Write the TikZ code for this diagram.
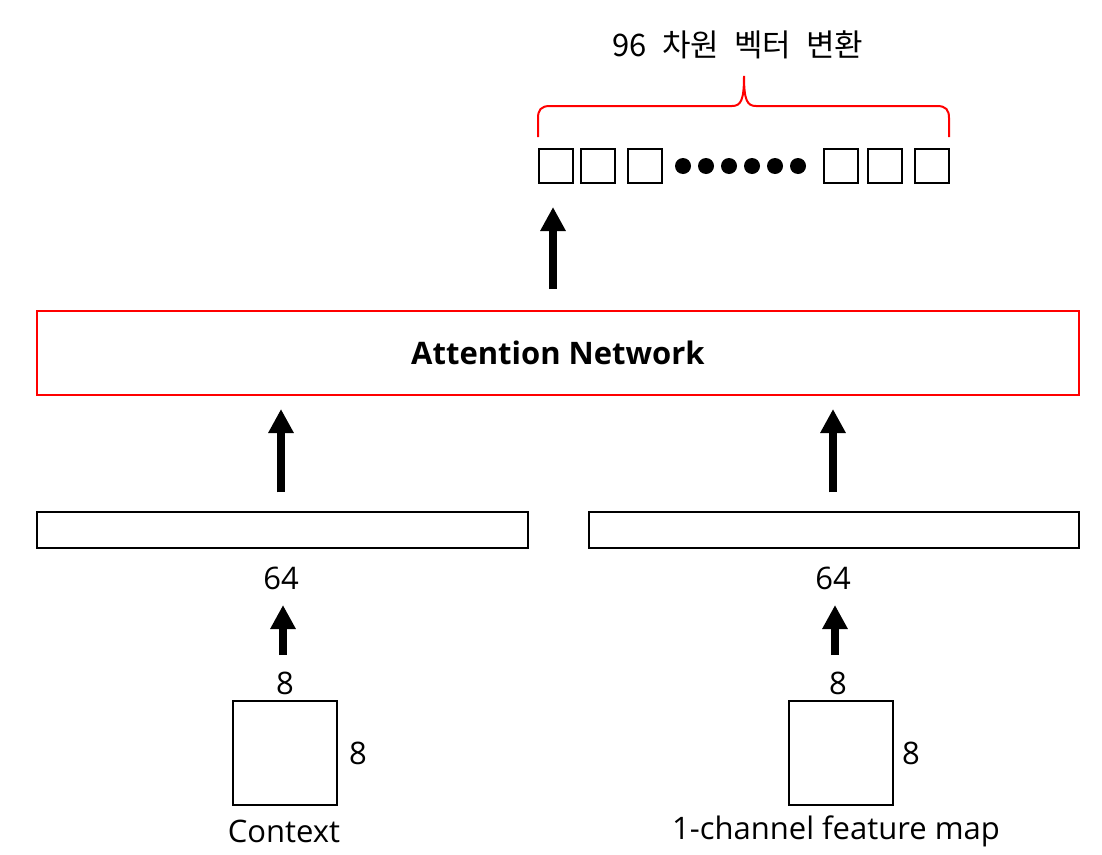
\documentclass[tikz,border=0pt]{standalone}
\usepackage{fontspec}
\setmainfont{Open Sans}
\newfontfamily\kor{Noto Sans CJK KR}
\usetikzlibrary{arrows.meta}
\begin{document}
\begin{tikzpicture}[x=1pt, y=-1pt,
    every node/.style={inner sep=0pt, font=\fontsize{31}{36}\selectfont},
    cell/.style={draw, line width=2pt, minimum size=34pt},
    dot/.style={circle, fill, minimum size=16pt},
    bar/.style={draw, line width=1.5pt, minimum height=36pt},
    netbox/.style={draw=red, line width=2pt, minimum width=1042pt, minimum height=84pt},
    mapbox/.style={draw, line width=2pt, minimum size=104pt},
    uparrow/.style={line width=8pt, -{Triangle[length=24pt, width=24pt]}}]
    \useasboundingbox (0,0) rectangle (1102,854);

    \node (title) at (738,45) {\kor\spaceskip=15pt 96 차원 벡터 변환};
    \foreach \i/\x in {1/555.5,2/597.5,3/644.5,4/841,5/885,6/932}{
        \node[cell] (c\i) at (\x,166) {};
    }
    \foreach \i/\x in {1/683,2/706,3/729,4/752,5/775,6/798}{
        \node[dot] (d\i) at (\x,166) {};
    }
    \draw[red, line width=2pt] (538,137) -- (538,118) .. controls (538,110) and (541,106) .. (550,106)
        -- (732,106) .. controls (741,106) and (744,100) .. (744,76)
        .. controls (744,100) and (747,106) .. (756,106)
        -- (937,106) .. controls (946,106) and (949,110) .. (949,118) -- (949,137);

    \node[netbox] (net) at (558,353) {\bfseries Attention Network};
    \node[bar, minimum width=491pt] (ctxbar) at (282.5,530) {};
    \node[bar, minimum width=490pt] (mapbar) at (834,530) {};
    \node (ctx64) at (281,578) {64};
    \node (map64) at (833,578) {64};

    \node (ctxw) at (285,683) {8};
    \node (mapw) at (838,683) {8};
    \node[mapbox] (ctx) at (285,753) {};
    \node[mapbox] (map) at (841,753) {};
    \node (ctxh) at (358,753) {8};
    \node (maph) at (911,753) {8};
    \node (ctxname) at (284,831) {Context};
    \node (mapname) at (836,831) {1-channel feature map};

    \draw[uparrow, shorten <=21pt, shorten >=24pt] (net.north -| 553,0) -- (553,183);
    \draw[uparrow, shorten <=19pt, shorten >=13pt] (ctxbar.north -| ctx64) -- (net.south -| ctx64);
    \draw[uparrow, shorten <=19pt, shorten >=13pt] (mapbar.north -| map64) -- (net.south -| map64);
    \draw[uparrow, shorten <=28pt, shorten >=27pt] (ctxw.center -| 283,0) -- (ctx64.center -| 283,0);
    \draw[uparrow, shorten <=28pt, shorten >=27pt] (mapw.center -| 835,0) -- (map64.center -| 835,0);

\end{tikzpicture}
\end{document}
